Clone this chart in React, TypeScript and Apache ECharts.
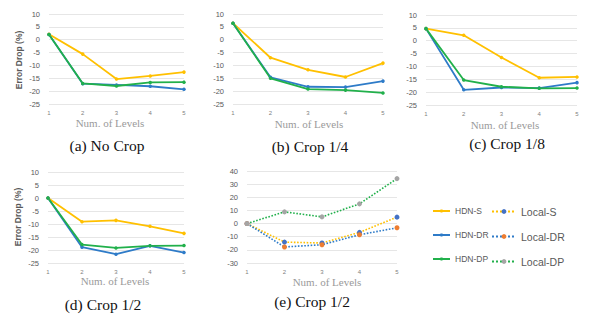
import React, { useEffect, useRef } from "react";
import * as echarts from "echarts";

const levels = ["1", "2", "3", "4", "5"];

// (a) No Crop
const aHdnS = [2.1, -5.6, -15.3, -14.1, -12.6];
const aHdnDR = [2.0, -17.1, -17.6, -18.1, -19.3];
const aHdnDP = [2.0, -17.0, -18.0, -16.6, -16.5];
// (b) Crop 1/4
const bHdnS = [6.4, -7.0, -11.7, -14.5, -9.1];
const bHdnDR = [6.4, -14.6, -18.3, -18.4, -16.1];
const bHdnDP = [6.4, -15.0, -19.2, -19.6, -20.7];
// (c) Crop 1/8
const cHdnS = [4.7, 2.1, -6.5, -14.4, -14.1];
const cHdnDR = [4.7, -19.1, -18.2, -18.4, -16.3];
const cHdnDP = [4.7, -15.3, -17.9, -18.5, -18.4];
// (d) Crop 1/2
const dHdnS = [0, -9.1, -8.6, -10.9, -13.6];
const dHdnDR = [0, -18.9, -21.6, -18.4, -21.0];
const dHdnDP = [0, -17.9, -19.2, -18.4, -18.3];
// (e) Crop 1/2 (local)
const eLocalS = [0, -14.1, -14.8, -6.7, 4.9];
const eLocalDR = [0, -17.8, -16.1, -8.5, -3.2];
const eLocalDP = [0, 8.9, 5.1, 15.0, 34.2];

const captions = ["(a) No Crop", "(b) Crop 1/4", "(c) Crop 1/8", "(d) Crop 1/2", "(e) Crop 1/2"];

const YELLOW = "#FFC000";
const BLUE = "#2E7BC8";
const GREEN = "#21B04B";
const M_BLUE = "#4472C4";
const M_ORANGE = "#ED7D31";
const M_GRAY = "#A5A5A5";

const SANS = "Liberation Sans";
const SERIF = "Liberation Serif";

export default function App() {
  const ref = useRef<HTMLDivElement>(null);
  useEffect(() => {
    if (!ref.current) return;
    const chart = echarts.init(ref.current, undefined, { renderer: "svg" });

    const grids = [
      { left: 49, top: 14, width: 135, height: 90 },
      { left: 233, top: 14, width: 150, height: 90 },
      { left: 426, top: 15, width: 151, height: 90 },
      { left: 48, top: 172, width: 136, height: 91 },
      { left: 247, top: 171, width: 150, height: 92 },
    ];
    const yRanges = [
      [-25, 10, 5],
      [-25, 10, 5],
      [-25, 10, 5],
      [-25, 10, 5],
      [-30, 40, 10],
    ];

    const xAxes = grids.map((_, i) => ({
      type: "category",
      gridIndex: i,
      data: levels,
      boundaryGap: false,
      axisLine: { show: false },
      axisTick: { show: false },
      splitLine: { show: false },
      axisLabel: { fontSize: 6, color: "#7f7f7f", margin: 6, fontFamily: SANS },
    }));
    const yAxes = grids.map((_, i) => ({
      type: "value",
      gridIndex: i,
      min: yRanges[i][0],
      max: yRanges[i][1],
      interval: yRanges[i][2],
      axisLine: { show: false },
      axisTick: { show: false },
      splitLine: { show: true, lineStyle: { color: "#e6e6e6", width: 1 } },
      axisLabel: { fontSize: 7.5, color: "#595959", margin: 9, fontFamily: SANS },
    }));

    const hdn = (name: string, color: string, data: number[], idx: number) => ({
      name,
      type: "line",
      xAxisIndex: idx,
      yAxisIndex: idx,
      data,
      symbol: "circle",
      symbolSize: 3.5,
      lineStyle: { color, width: 1.8 },
      itemStyle: { color },
    });
    const local = (name: string, lineColor: string, markColor: string, data: number[], idx: number) => ({
      name,
      type: "line",
      xAxisIndex: idx,
      yAxisIndex: idx,
      data,
      symbol: "circle",
      symbolSize: 5,
      lineStyle: { color: lineColor, width: 1.6, type: "dotted" },
      itemStyle: { color: markColor },
    });

    const hdnSets = [
      [aHdnS, aHdnDR, aHdnDP],
      [bHdnS, bHdnDR, bHdnDP],
      [cHdnS, cHdnDR, cHdnDP],
      [dHdnS, dHdnDR, dHdnDP],
    ];
    const series: any[] = [];
    hdnSets.forEach((set, i) => {
      series.push(hdn("HDN-S", YELLOW, set[0], i));
      series.push(hdn("HDN-DR", BLUE, set[1], i));
      series.push(hdn("HDN-DP", GREEN, set[2], i));
    });
    series.push(local("Local-S", YELLOW, M_BLUE, eLocalS, 4));
    series.push(local("Local-DR", BLUE, M_ORANGE, eLocalDR, 4));
    series.push(local("Local-DP", GREEN, M_GRAY, eLocalDP, 4));

    const levelNamePos = [
      [110, 123],
      [309, 124],
      [505, 125],
      [115, 281],
      [327, 282],
    ];
    const captionPos = [
      [107, 145],
      [310, 146],
      [507, 143],
      [103, 304],
      [312, 301],
    ];

    const graphics: any[] = [];
    levelNamePos.forEach(([x, y]) => {
      graphics.push({
        type: "text",
        x,
        y,
        style: {
          text: "Num. of Levels",
          font: "normal 11px 'Liberation Serif', serif",
          fill: "#9a9a9a",
          align: "center",
          verticalAlign: "middle",
        },
      });
    });
    captionPos.forEach(([x, y], i) => {
      graphics.push({
        type: "text",
        x,
        y,
        style: {
          text: captions[i],
          fontSize: 15.5,
          fontFamily: SERIF,
          fill: "#111111",
          align: "center",
          verticalAlign: "middle",
        },
      });
    });
    [
      [19, 60],
      [18, 217],
    ].forEach(([x, y]) => {
      graphics.push({
        type: "text",
        x,
        y,
        rotation: Math.PI / 2,
        style: {
          text: "Error Drop (%)",
          fontSize: 8.5,
          fontWeight: "bold",
          fontFamily: SANS,
          fill: "#595959",
          align: "center",
          verticalAlign: "middle",
        },
      });
    });

    chart.setOption({
      animation: false,
      backgroundColor: "#ffffff",
      grid: grids,
      xAxis: xAxes,
      yAxis: yAxes,
      series,
      legend: [
        {
          data: ["HDN-S", "HDN-DR", "HDN-DP"],
          orient: "vertical",
          left: 432,
          top: 206,
          itemWidth: 17,
          itemHeight: 4,
          itemGap: 14,
          selectedMode: false,
          padding: 0,
          textStyle: { fontSize: 8.5, color: "#595959", fontFamily: SANS, lineHeight: 10 },
        },
        {
          data: ["Local-S", "Local-DR", "Local-DP"],
          orient: "vertical",
          left: 491,
          top: 206,
          itemWidth: 24,
          itemHeight: 6,
          itemGap: 14,
          selectedMode: false,
          padding: 0,
          textStyle: { fontSize: 10.5, color: "#595959", fontFamily: SANS, lineHeight: 10 },
        },
      ],
      graphic: graphics,
    });
    return () => chart.dispose();
  }, []);

  return (
    <div
      ref={ref}
      style={{ position: "absolute", left: 0, top: 0, width: 598, height: 324 }}
    />
  );
}
